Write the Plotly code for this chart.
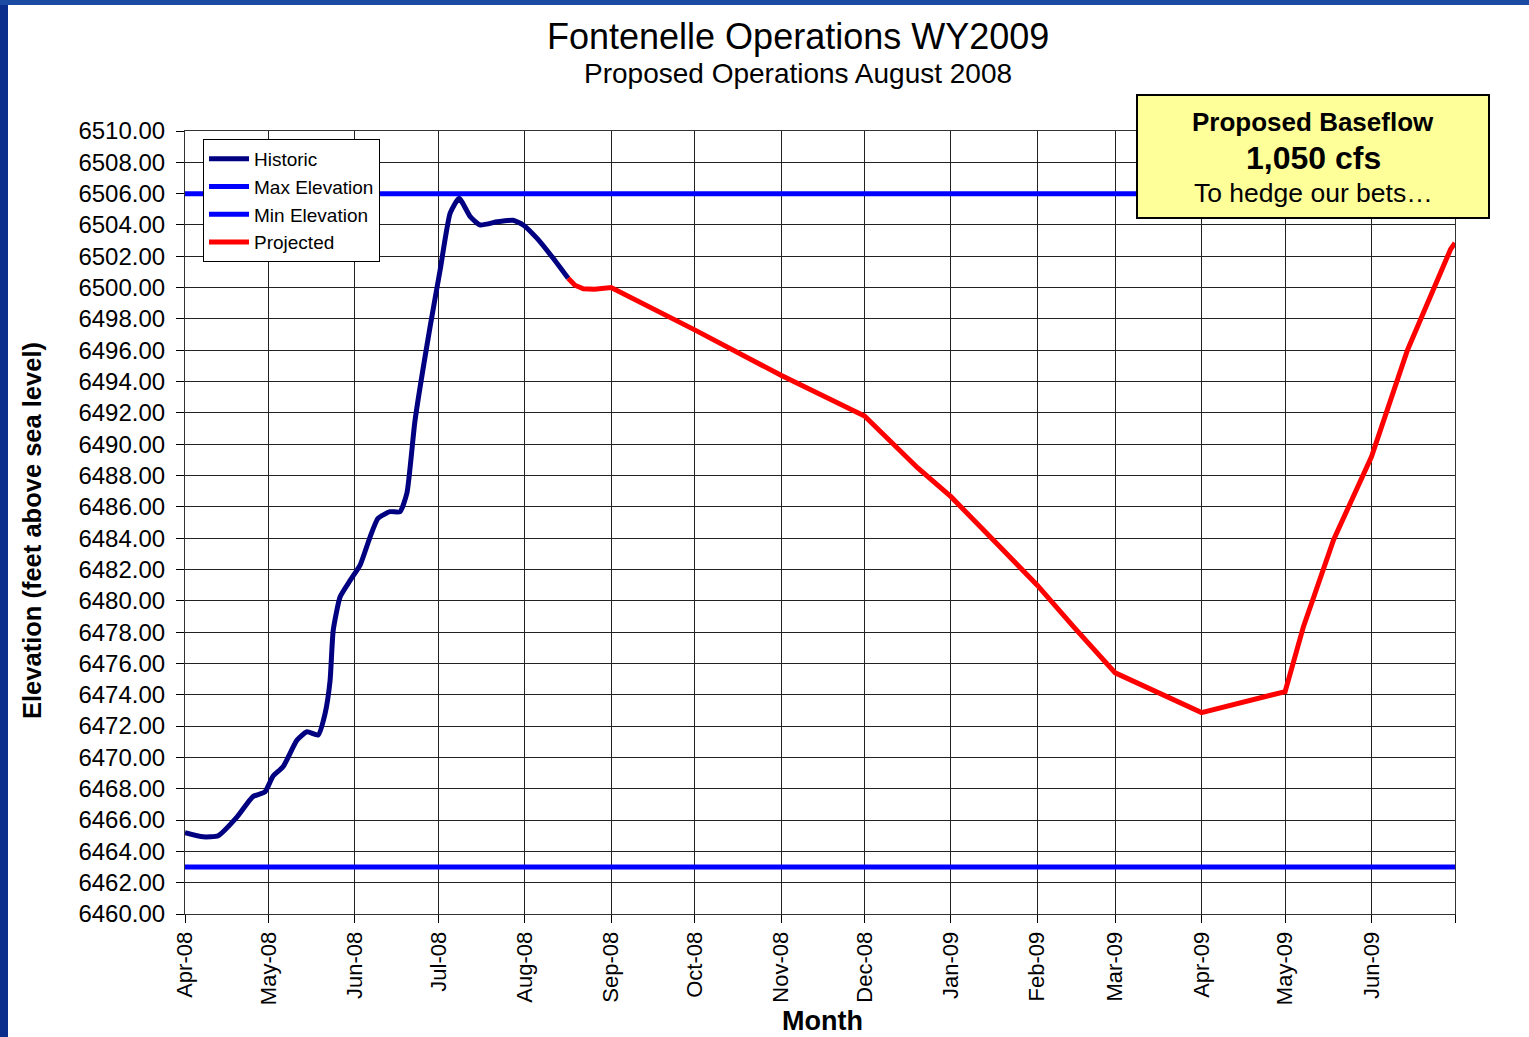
import plotly.graph_objects as go

# ---------------- data ----------------
historic_dates = [
    "2008-04-01", "2008-04-07 12:00", "2008-04-12 22:00", "2008-04-19 17:00",
    "2008-04-25 10:00", "2008-04-29 17:00", "2008-05-02 14:00", "2008-05-06 05:00",
    "2008-05-11 05:00", "2008-05-14 19:00", "2008-05-18 19:00", "2008-05-21 07:00",
    "2008-05-23 02:00", "2008-05-24 05:00", "2008-05-26 17:00", "2008-05-30 07:00",
    "2008-06-02 22:00", "2008-06-06 12:00", "2008-06-09 07:00", "2008-06-13 14:00",
    "2008-06-17 05:00", "2008-06-19 17:00", "2008-06-22 14:00", "2008-06-28 00:00",
    "2008-07-01 14:00", "2008-07-05 05:00", "2008-07-08 10:00", "2008-07-12 10:00",
    "2008-07-16 00:00", "2008-07-22 02:00", "2008-07-27 19:00", "2008-07-31 10:00",
    "2008-08-05 10:00", "2008-08-11 05:00", "2008-08-16 14:00",
]
historic_elev = [
    6465.20, 6464.93, 6465.00, 6466.20,
    6467.50, 6467.80, 6468.80, 6469.40,
    6471.10, 6471.64, 6471.43, 6472.80,
    6474.90, 6478.10, 6480.26, 6481.30,
    6482.30, 6484.10, 6485.26, 6485.69,
    6485.69, 6486.90, 6491.50, 6497.50,
    6501.10, 6504.76, 6505.70, 6504.53,
    6504.00, 6504.20, 6504.30, 6504.00,
    6503.14, 6501.87, 6500.59,
]

projected_dates = [
    "2008-08-16 14:00", "2008-08-19 00:00", "2008-08-22 00:00", "2008-08-26 00:00",
    "2008-09-01", "2008-10-01", "2008-11-01", "2008-12-01", "2008-12-20",
    "2009-01-01", "2009-01-15", "2009-02-01", "2009-02-14", "2009-03-01",
    "2009-04-01", "2009-05-01", "2009-05-07 14:00", "2009-05-18 10:00",
    "2009-06-01", "2009-06-13 22:00", "2009-06-29 10:00", "2009-07-01",
]
projected_elev = [
    6500.59, 6500.15, 6499.93, 6499.89,
    6500.00, 6497.30, 6494.40, 6491.80, 6488.50,
    6486.65, 6484.10, 6481.00, 6478.35, 6475.40,
    6472.86, 6474.20, 6478.35, 6483.90,
    6489.20, 6496.00, 6502.45, 6502.85,
]

limit_dates = ["2008-04-01", "2009-07-01"]
max_elevation = [6506.0, 6506.0]
min_elevation = [6463.0, 6463.0]

month_ticks = [
    "2008-04-01", "2008-05-01", "2008-06-01", "2008-07-01", "2008-08-01", "2008-09-01",
    "2008-10-01", "2008-11-01", "2008-12-01", "2009-01-01", "2009-02-01", "2009-03-01",
    "2009-04-01", "2009-05-01", "2009-06-01", "2009-07-01",
]
month_labels = [
    "Apr-08", "May-08", "Jun-08", "Jul-08", "Aug-08", "Sep-08",
    "Oct-08", "Nov-08", "Dec-08", "Jan-09", "Feb-09", "Mar-09",
    "Apr-09", "May-09", "Jun-09", "",
]

FONT = "Liberation Sans, Arial, Helvetica, sans-serif"

# ---------------- figure ----------------
fig = go.Figure()
fig.add_trace(go.Scatter(x=historic_dates, y=historic_elev, mode="lines", name="Historic",
                         line=dict(color="#000080", width=5, shape="spline", smoothing=0.5)))
fig.add_trace(go.Scatter(x=limit_dates, y=max_elevation, mode="lines", name="Max Elevation",
                         line=dict(color="#0000FF", width=5)))
fig.add_trace(go.Scatter(x=limit_dates, y=min_elevation, mode="lines", name="Min Elevation",
                         line=dict(color="#0000FF", width=5)))
fig.add_trace(go.Scatter(x=projected_dates, y=projected_elev, mode="lines", name="Projected",
                         line=dict(color="#FF0000", width=5)))

L, R, T, B = 185, 74, 131, 123
W, H = 1529, 1037
PW, PH = W - L - R, H - T - B


def px(xp):
    return (xp - L) / PW


def py(yp):
    return 1 - (yp - T) / PH


fig.update_layout(
    width=W, height=H,
    template="none",
    paper_bgcolor="white", plot_bgcolor="white",
    margin=dict(l=L, r=R, t=T, b=B, pad=0),
    font=dict(family=FONT, color="black"),
    showlegend=True,
    legend=dict(x=px(203), y=py(139), xanchor="left", yanchor="top",
                bgcolor="white", bordercolor="black", borderwidth=1,
                font=dict(size=19, family=FONT), tracegroupgap=0,
                itemwidth=40),
)

fig.update_xaxes(
    type="date", range=["2008-04-01", "2009-07-01"],
    tickvals=month_ticks, ticktext=month_labels, tickangle=-90,
    tickfont=dict(size=22, family=FONT),
    ticks="outside", ticklen=8, tickcolor="black", tickwidth=1,
    showgrid=True, gridcolor="#222222", gridwidth=1,
    showline=True, linecolor="#333333", linewidth=1, mirror=True,
    zeroline=False, automargin=False,
)
fig.update_yaxes(
    range=[6460, 6510], dtick=2, tick0=6460, tickformat=".2f",
    tickfont=dict(size=24, family=FONT),
    ticks="outside", ticklen=8, tickcolor="black", tickwidth=1,
    ticklabelstandoff=6,
    showgrid=True, gridcolor="#222222", gridwidth=1,
    showline=True, linecolor="#333333", linewidth=1, mirror=True,
    zeroline=False, automargin=False,
)

# slide frame (blue bars at left and top)
fig.add_shape(type="rect", xref="paper", yref="paper",
              x0=px(0), x1=px(8), y0=py(H), y1=py(0),
              fillcolor="#0B2E8C", line=dict(width=0), layer="above")
fig.add_shape(type="rect", xref="paper", yref="paper",
              x0=px(0), x1=px(W), y0=py(5), y1=py(0),
              fillcolor="#1C4BA3", line=dict(width=0), layer="above")

# callout box
fig.add_shape(type="rect", xref="paper", yref="paper",
              x0=px(1137), x1=px(1489), y0=py(218), y1=py(95),
              fillcolor="#FFFF99", line=dict(color="black", width=2), layer="above")

annos = [
    dict(text="Fontenelle Operations WY2009", x=px(798), y=py(37), size=36, bold=False),
    dict(text="Proposed Operations August 2008", x=px(798), y=py(73), size=28, bold=False),
    dict(text="Proposed Baseflow", x=px(1313), y=py(122), size=26, bold=True),
    dict(text="1,050 cfs", x=px(1313), y=py(158), size=32, bold=True),
    dict(text="To hedge our bets…", x=px(1313), y=py(193), size=26.5, bold=False),
    dict(text="Month", x=px(822), y=py(1021), size=27, bold=True),
]
for a in annos:
    txt = f"<b>{a['text']}</b>" if a["bold"] else a["text"]
    fig.add_annotation(text=txt, xref="paper", yref="paper", x=a["x"], y=a["y"],
                       xanchor="center", yanchor="middle", showarrow=False,
                       font=dict(size=a["size"], family=FONT, color="black"))

fig.add_annotation(text="<b>Elevation (feet above sea level)</b>", xref="paper", yref="paper",
                   x=px(32), y=py(531), xanchor="center", yanchor="middle", textangle=-90,
                   showarrow=False, font=dict(size=25.5, family=FONT, color="black"))

fig.write_html("out.html", config={"displayModeBar": False},
               post_script="document.body.style.margin='0px';")
